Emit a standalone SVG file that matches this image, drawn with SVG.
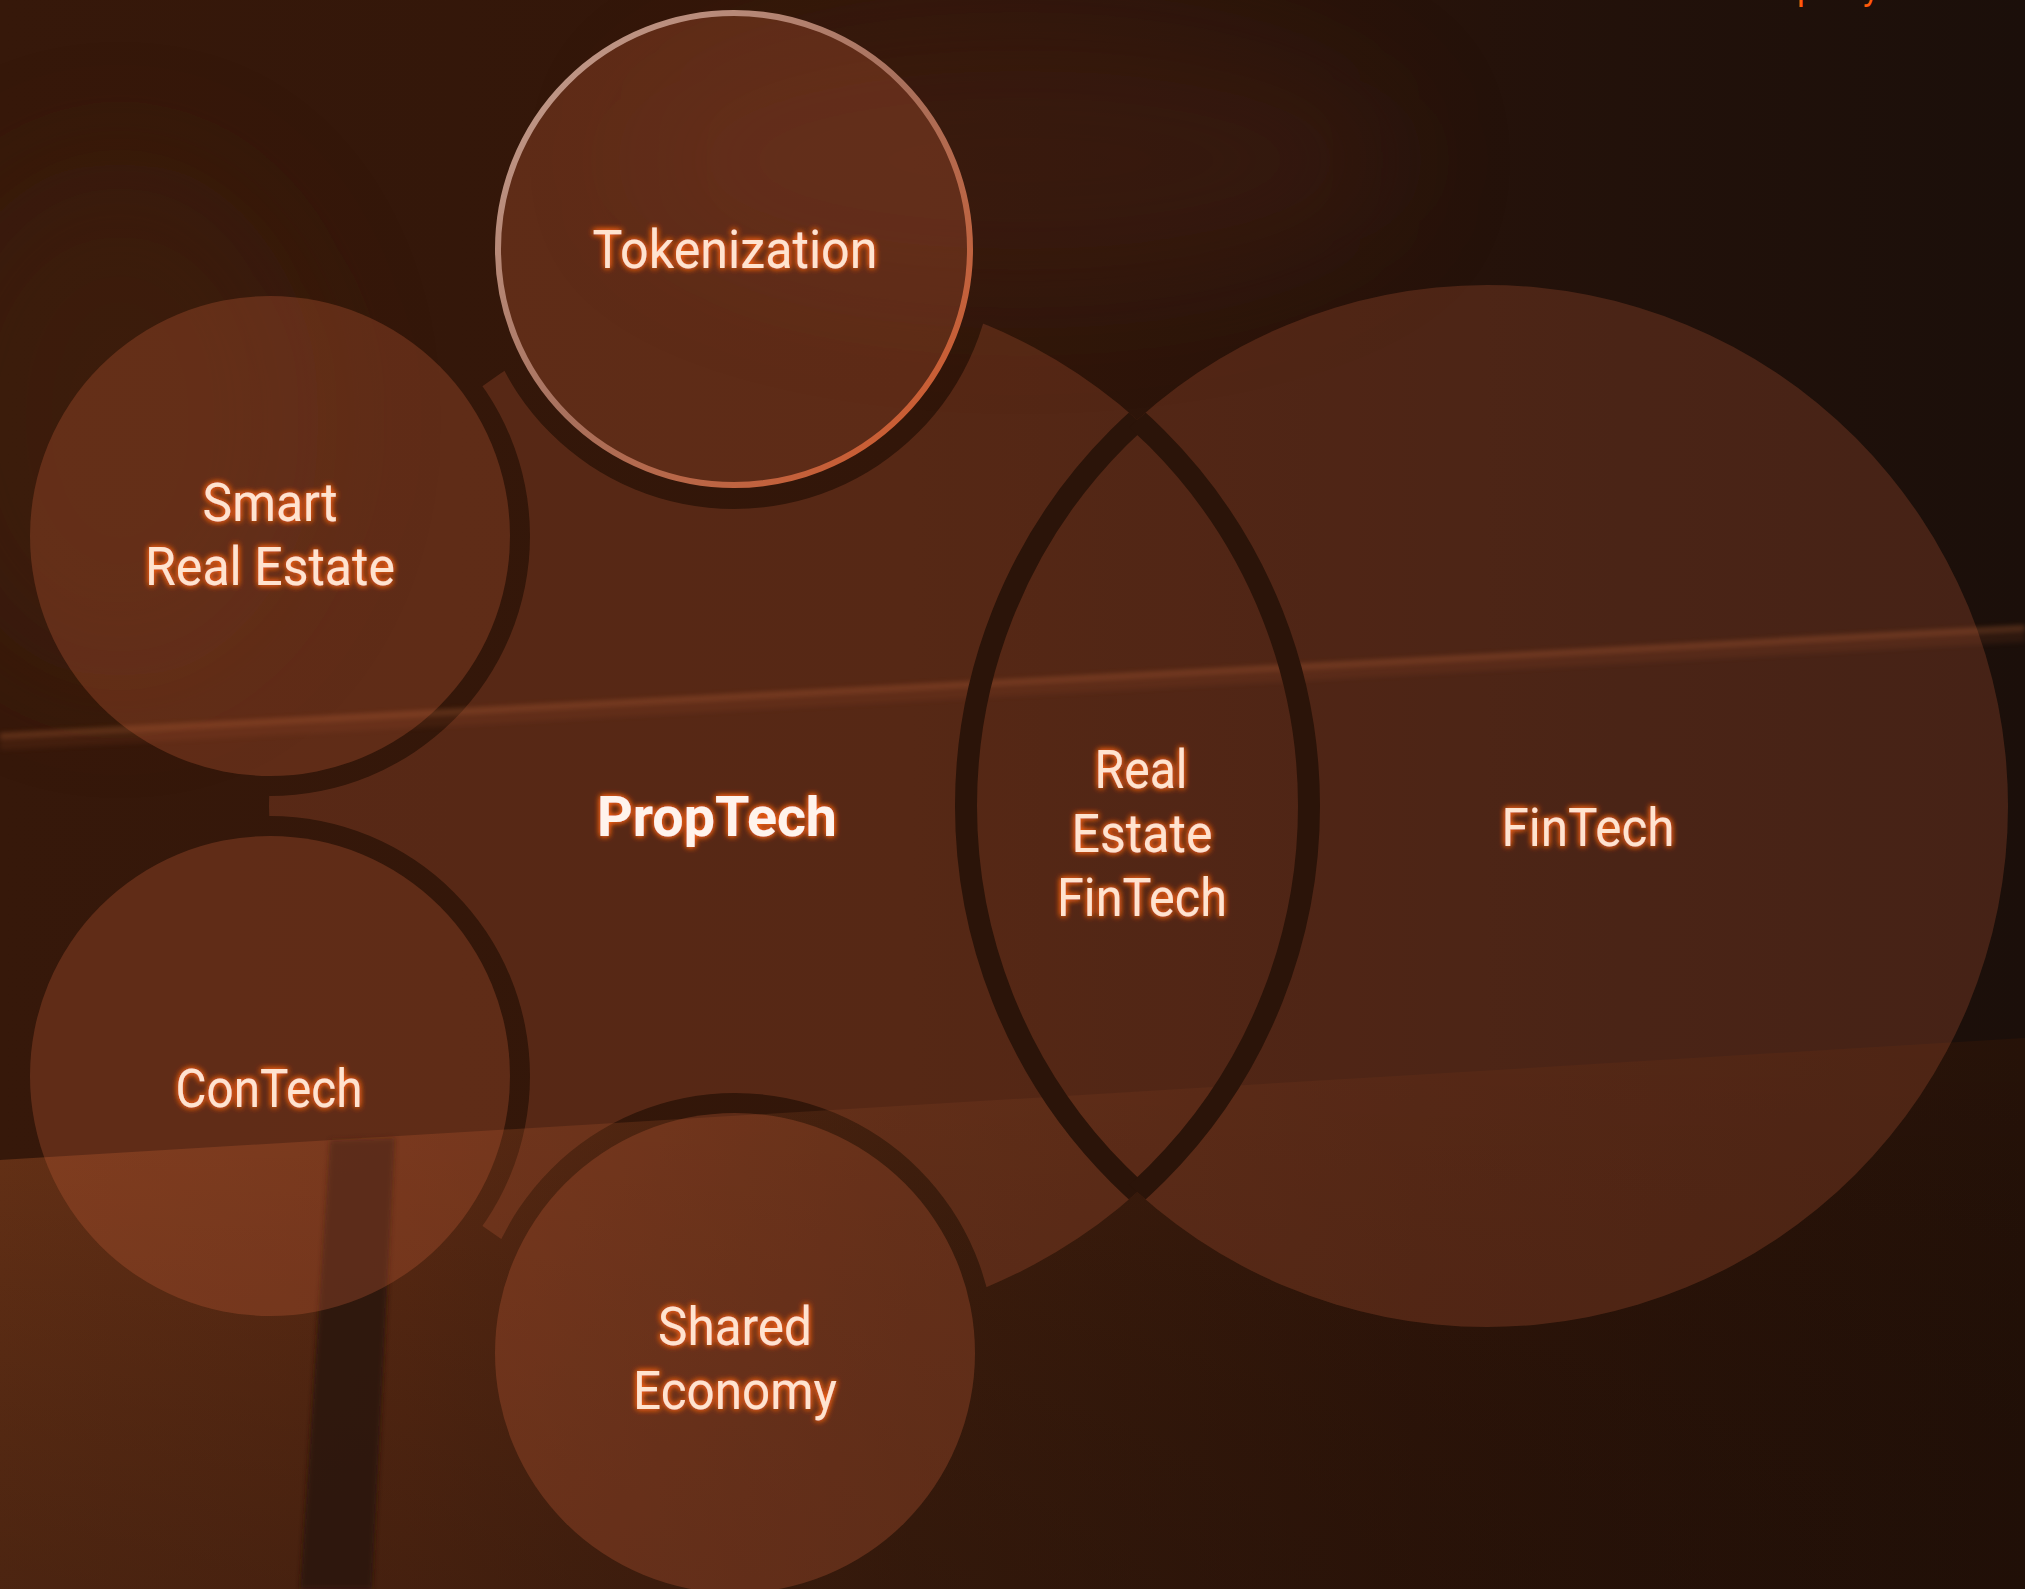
<svg xmlns="http://www.w3.org/2000/svg" width="2025" height="1589" viewBox="0 0 2025 1589">
<defs>
<style>
.lbl{font-family:Roboto,"Noto Sans","Liberation Sans",sans-serif;font-size:53px;fill:#ffe3cf;text-anchor:middle}
.bold{font-weight:700;font-size:56px;fill:#fff3ec}
.big{fill:#b85a38;fill-opacity:0.27}
.small{fill:#c25c38;fill-opacity:0.3}
.seam{fill:none;stroke:#2b1409;stroke-width:22}
</style>
<linearGradient id="bgH" x1="0" y1="0" x2="1" y2="0">
<stop offset="0" stop-color="#36180a"/>
<stop offset="0.45" stop-color="#321609"/>
<stop offset="0.8" stop-color="#22110a"/>
<stop offset="1" stop-color="#1b0f0a"/>
</linearGradient>
<linearGradient id="lowG" x1="0" y1="0" x2="1" y2="0">
<stop offset="0" stop-color="#6a3317"/>
<stop offset="0.2" stop-color="#5f2c14"/>
<stop offset="0.45" stop-color="#43200e"/>
<stop offset="0.7" stop-color="#33170a"/>
<stop offset="1" stop-color="#261208"/>
</linearGradient>
<linearGradient id="lowV" x1="0" y1="0" x2="0" y2="1">
<stop offset="0" stop-color="#000" stop-opacity="0"/>
<stop offset="1" stop-color="#150a05" stop-opacity="0.35"/>
</linearGradient>
<linearGradient id="tokStroke" gradientUnits="userSpaceOnUse" x1="520" y1="40" x2="950" y2="460">
<stop offset="0" stop-color="#c39d8e"/>
<stop offset="0.5" stop-color="#a8705c"/>
<stop offset="1" stop-color="#d2592a"/>
</linearGradient>
<filter id="soft" x="-50%" y="-50%" width="200%" height="200%">
<feGaussianBlur stdDeviation="60"/>
</filter>
<filter id="soft2" x="-5%" y="-50%" width="110%" height="200%">
<feGaussianBlur stdDeviation="2.5"/>
</filter>
<filter id="glow" x="-15%" y="-40%" width="130%" height="180%">
<feGaussianBlur in="SourceAlpha" stdDeviation="3" result="b"/>
<feFlood flood-color="#ff6418" flood-opacity="0.95"/>
<feComposite in2="b" operator="in" result="g"/>
<feMerge><feMergeNode in="g"/><feMergeNode in="g"/><feMergeNode in="SourceGraphic"/></feMerge>
</filter>
<mask id="propMask" maskUnits="userSpaceOnUse" x="0" y="0" width="2025" height="1589">
<rect width="2025" height="1589" fill="#fff"/>
<circle cx="734" cy="249" r="260" fill="#000"/>
<circle cx="270" cy="536" r="260" fill="#000"/>
<circle cx="270" cy="1076" r="260" fill="#000"/>
<circle cx="735" cy="1353" r="260" fill="#000"/>
</mask>
<mask id="finMask" maskUnits="userSpaceOnUse" x="0" y="0" width="2025" height="1589">
<rect width="2025" height="1589" fill="#fff"/>
<circle cx="789" cy="806" r="520" fill="#000"/>
</mask>
<clipPath id="clipProp"><circle cx="789" cy="806" r="520"/></clipPath>
<clipPath id="clipFin"><circle cx="1487" cy="806" r="521"/></clipPath>
</defs>

<g id="background">
<rect width="2025" height="1589" fill="url(#bgH)"/>
<ellipse cx="1020" cy="160" rx="380" ry="130" fill="#4a2212" opacity="0.35" filter="url(#soft)"/>
<ellipse cx="120" cy="420" rx="200" ry="260" fill="#45200e" opacity="0.4" filter="url(#soft)"/>
<polygon points="0,1160 1380,1077 2025,1038 2025,1589 0,1589" fill="url(#lowG)"/>
<polygon points="0,1160 1380,1077 2025,1038 2025,1589 0,1589" fill="url(#lowV)"/>
<polygon points="330,1140 395,1138 372,1589 300,1589" fill="#2a1208" opacity="0.85" filter="url(#soft2)"/>
<line x1="0" y1="736" x2="2025" y2="628" stroke="#a05a32" stroke-width="6" opacity="0.35" filter="url(#soft2)"/>
<line x1="0" y1="742" x2="2025" y2="634" stroke="#7a3e20" stroke-width="16" opacity="0.2" filter="url(#soft2)"/>
</g>

<g id="node-fintech">
<circle class="big" cx="1487" cy="806" r="521" mask="url(#finMask)"/>
<text class="lbl" x="1588" y="846" textLength="173" lengthAdjust="spacingAndGlyphs" filter="url(#glow)">FinTech</text>
</g>

<g id="node-proptech">
<circle class="big" cx="789" cy="806" r="520" mask="url(#propMask)"/>
<text class="lbl bold" x="717" y="836" textLength="240" lengthAdjust="spacingAndGlyphs" filter="url(#glow)">PropTech</text>
</g>

<g id="connectors">
<circle class="seam" cx="1487" cy="806" r="521" clip-path="url(#clipProp)"/>
<circle class="seam" cx="789" cy="806" r="520" clip-path="url(#clipFin)"/>
</g>

<g id="node-real-estate-fintech">
<text class="lbl" x="1141" y="788" textLength="93" lengthAdjust="spacingAndGlyphs" filter="url(#glow)">Real</text>
<text class="lbl" x="1142" y="852" textLength="141" lengthAdjust="spacingAndGlyphs" filter="url(#glow)">Estate</text>
<text class="lbl" x="1142" y="916" textLength="170" lengthAdjust="spacingAndGlyphs" filter="url(#glow)">FinTech</text>
</g>

<g id="node-tokenization">
<circle class="small" cx="734" cy="249" r="236" stroke="url(#tokStroke)" stroke-width="6" stroke-opacity="1"/>
<text class="lbl" x="735" y="268" textLength="285" lengthAdjust="spacingAndGlyphs" filter="url(#glow)">Tokenization</text>
</g>

<g id="node-smart-real-estate">
<circle class="small" cx="270" cy="536" r="240"/>
<text class="lbl" x="270" y="521" textLength="135" lengthAdjust="spacingAndGlyphs" filter="url(#glow)">Smart</text>
<text class="lbl" x="270" y="585" textLength="250" lengthAdjust="spacingAndGlyphs" filter="url(#glow)">Real Estate</text>
</g>

<g id="node-contech">
<circle class="small" cx="270" cy="1076" r="240"/>
<text class="lbl" x="269" y="1107" textLength="187" lengthAdjust="spacingAndGlyphs" filter="url(#glow)">ConTech</text>
</g>

<g id="node-shared-economy">
<circle class="small" cx="735" cy="1353" r="240"/>
<text class="lbl" x="735" y="1345" textLength="154" lengthAdjust="spacingAndGlyphs" filter="url(#glow)">Shared</text>
<text class="lbl" x="735" y="1409" textLength="204" lengthAdjust="spacingAndGlyphs" filter="url(#glow)">Economy</text>
</g>

<g id="corner-text">
<text x="1797" y="0" font-family="Roboto,'Noto Sans',sans-serif" font-size="34" fill="#ff5a0a">p</text>
<text x="1863" y="0" font-family="Roboto,'Noto Sans',sans-serif" font-size="34" fill="#ff5a0a">y</text>
</g>
</svg>
